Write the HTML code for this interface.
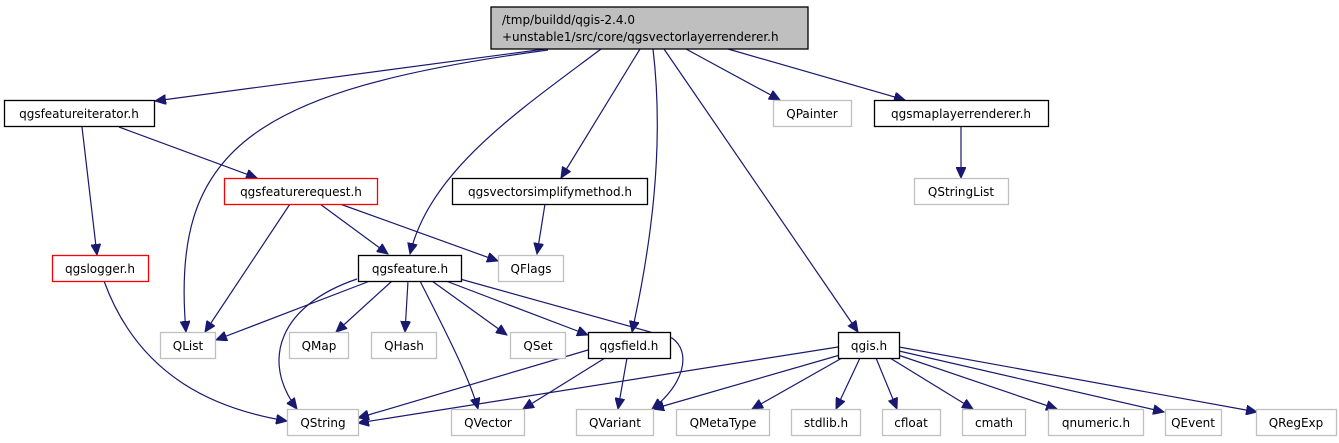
<!DOCTYPE html>
<html><head><meta charset="utf-8"><style>
html,body{margin:0;padding:0;background:#fff}
svg{display:block}
text{font-family:"DejaVu Sans","Liberation Sans",sans-serif;font-size:12px;fill:#000}
.e{fill:none;stroke:#191970;stroke-width:1.2}
.b{fill:#fff;stroke:#000;stroke-width:1.3}
.g{fill:#fff;stroke:#bfbfbf;stroke-width:1.3}
.r{fill:#fff;stroke:#ff0000;stroke-width:1.3}
</style></head><body>
<svg width="1339" height="443" viewBox="0 0 1339 443" xmlns="http://www.w3.org/2000/svg">
<defs><marker id="a" markerUnits="userSpaceOnUse" markerWidth="12" markerHeight="10" refX="11" refY="5" orient="auto"><path d="M0,0 L11,5 L0,10 Z" fill="#191970" stroke="#191970"/></marker></defs>
<g marker-end="url(#a)">
<path class="e" d="M545,49 L155,101"/>
<path class="e" d="M548,50 C250,90 170,150 186,332"/>
<path class="e" d="M601,49 C520,110 430,170 410,254"/>
<path class="e" d="M640,49 L561,178"/>
<path class="e" d="M653,49 C665,150 650,250 632,332"/>
<path class="e" d="M686,49 L780,100"/>
<path class="e" d="M728,49 L905,100"/>
<path class="e" d="M664,49 L858,332"/>
<path class="e" d="M961,127 L961,178"/>
<path class="e" d="M119,127 L257,178"/>
<path class="e" d="M82,127 L97,255"/>
<path class="e" d="M290,204 L205,332"/>
<path class="e" d="M320,204 L388,254"/>
<path class="e" d="M340,204 L498,261"/>
<path class="e" d="M545,204 L537,254"/>
<path class="e" d="M104,281 C140,380 220,410 287,421"/>
<path class="e" d="M370,281 L216,340"/>
<path class="e" d="M357,279 C280,305 260,360 297,409"/>
<path class="e" d="M392,281 L336,332"/>
<path class="e" d="M408,281 L405,332"/>
<path class="e" d="M420,281 C450,340 470,380 478,409"/>
<path class="e" d="M432,281 L507,335"/>
<path class="e" d="M446,281 L588,335"/>
<path class="e" d="M460,279 L672,338 C692,352 684,385 652,409"/>
<path class="e" d="M588,350 L358,418"/>
<path class="e" d="M605,358 L523,409"/>
<path class="e" d="M627,358 L618,409"/>
<path class="e" d="M838,347 L358,423"/>
<path class="e" d="M840,355 L653,409"/>
<path class="e" d="M842,358 L752,409"/>
<path class="e" d="M860,358 L836,409"/>
<path class="e" d="M876,358 L897,409"/>
<path class="e" d="M890,358 L973,409"/>
<path class="e" d="M898,355 L1057,409"/>
<path class="e" d="M899,351 L1164,412"/>
<path class="e" d="M899,347 L1257,412"/>
</g>
<rect x="491" y="7" width="317" height="42" fill="#bfbfbf" stroke="#000" stroke-width="1.3"/>
<text x="502" y="24">/tmp/buildd/qgis-2.4.0</text>
<text x="502" y="41">+unstable1/src/core/qgsvectorlayerrenderer.h</text>
<g text-anchor="middle">
<rect class="b" x="4.5" y="100.5" width="150" height="26"/><text x="79" y="118">qgsfeatureiterator.h</text>
<rect class="g" x="773.5" y="100.5" width="78" height="26"/><text x="812" y="118">QPainter</text>
<rect class="b" x="874.5" y="100.5" width="174" height="26"/><text x="961" y="118">qgsmaplayerrenderer.h</text>
<rect class="r" x="224.5" y="178.5" width="153" height="26"/><text x="301" y="196">qgsfeaturerequest.h</text>
<rect class="b" x="452.5" y="178.5" width="195" height="26"/><text x="550" y="196">qgsvectorsimplifymethod.h</text>
<rect class="g" x="914.5" y="178.5" width="94" height="26"/><text x="961" y="196">QStringList</text>
<rect class="r" x="52.5" y="255.5" width="96" height="26"/><text x="100" y="273">qgslogger.h</text>
<rect class="b" x="358.5" y="255.5" width="103" height="26"/><text x="410" y="273">qgsfeature.h</text>
<rect class="g" x="498.5" y="255.5" width="65" height="26"/><text x="531" y="273">QFlags</text>
<rect class="g" x="160.5" y="332.5" width="55" height="26"/><text x="188" y="350">QList</text>
<rect class="g" x="289.5" y="332.5" width="59" height="26"/><text x="319" y="350">QMap</text>
<rect class="g" x="371.5" y="332.5" width="65" height="26"/><text x="404" y="350">QHash</text>
<rect class="g" x="510.5" y="332.5" width="55" height="26"/><text x="538" y="350">QSet</text>
<rect class="b" x="588.5" y="332.5" width="82" height="26"/><text x="629" y="350">qgsfield.h</text>
<rect class="b" x="838.5" y="332.5" width="61" height="26"/><text x="869" y="350">qgis.h</text>
<rect class="g" x="287.5" y="409.5" width="71" height="26"/><text x="323" y="427">QString</text>
<rect class="g" x="451.5" y="409.5" width="73" height="26"/><text x="488" y="427">QVector</text>
<rect class="g" x="576.5" y="409.5" width="77" height="26"/><text x="615" y="427">QVariant</text>
<rect class="g" x="676.5" y="409.5" width="93" height="26"/><text x="723" y="427">QMetaType</text>
<rect class="g" x="791.5" y="409.5" width="69" height="26"/><text x="826" y="427">stdlib.h</text>
<rect class="g" x="882.5" y="409.5" width="58" height="26"/><text x="911" y="427">cfloat</text>
<rect class="g" x="962.5" y="409.5" width="63" height="26"/><text x="994" y="427">cmath</text>
<rect class="g" x="1048.5" y="409.5" width="95" height="26"/><text x="1096" y="427">qnumeric.h</text>
<rect class="g" x="1165.5" y="409.5" width="56" height="26"/><text x="1193" y="427">QEvent</text>
<rect class="g" x="1256.5" y="409.5" width="80" height="26"/><text x="1296" y="427">QRegExp</text>
</g>
</svg>
</body></html>
